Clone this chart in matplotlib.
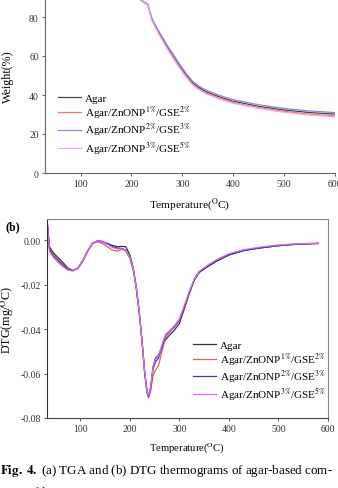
import matplotlib
matplotlib.use("Agg")
import matplotlib.pyplot as plt

plt.rcParams['font.family'] = ['Liberation Serif', 'DejaVu Serif']
plt.rcParams['mathtext.fontset'] = 'stix'

# ---------------- data ----------------
labels_a = ["Agar",
            "Agar/ZnONP$^{1\\%}$/GSE$^{2\\%}$",
            "Agar/ZnONP$^{2\\%}$/GSE$^{3\\%}$",
            "Agar/ZnONP$^{3\\%}$/GSE$^{5\\%}$"]
labels_b = labels_a

# TGA
t_tga = [30, 60, 100, 150, 200, 215, 225, 232, 240, 250, 260, 270, 280, 290, 300,
         310, 320, 330, 340, 350, 375, 400, 450, 500, 550, 600]
w_agar = [100, 96, 93, 91.5, 90.5, 89.5, 87.5, 86.5, 79, 74, 69.5, 65, 61, 57, 53,
          49.5, 46.3, 44.2, 42.6, 41.3, 38.8, 36.8, 34.2, 32.3, 31.0, 30.2]
w_zn1 = [100, 96, 93, 91.3, 90.3, 89.3, 87.3, 86.2, 78.5, 73.2, 68.6, 64.0, 60.0, 56.0, 52.2,
         48.7, 45.6, 43.5, 41.9, 40.6, 38.1, 36.1, 33.5, 31.6, 30.2, 29.3]
w_zn2 = [100, 96, 93, 91.6, 90.6, 89.6, 87.6, 86.6, 79.3, 74.3, 69.9, 65.5, 61.6, 57.6, 53.7,
         50.2, 47.1, 45.0, 43.4, 42.1, 39.6, 37.6, 35.0, 33.1, 31.8, 31.0]
w_zn3 = [100, 96, 93, 91.2, 90.2, 89.2, 87.2, 86.0, 78.3, 73.0, 68.3, 63.7, 59.6, 55.6, 51.8,
         48.3, 45.2, 43.1, 41.5, 40.2, 37.7, 35.7, 33.1, 31.1, 29.7, 28.8]

# DTG
t_dtg = [33, 38, 45, 55, 65, 75, 85, 95, 105, 115, 125, 135, 145, 155, 165, 175, 185,
         192, 200, 207, 213, 219, 225, 230, 235, 238, 242, 247, 252, 258, 265, 272, 280,
         290, 300, 310, 320, 330, 340, 355, 375, 400, 430, 460, 500, 540, 580]
d_agar = [0.009, -0.003, -0.0055, -0.0078, -0.0100, -0.0125, -0.0137, -0.0128, -0.0095, -0.0050,
          -0.0015, -0.0005, -0.0008, -0.0015, -0.0024, -0.0030, -0.0028, -0.0030, -0.0065, -0.0125,
          -0.0210, -0.0320, -0.0460, -0.0590, -0.0685, -0.0700, -0.0665, -0.0570, -0.0530, -0.0518,
          -0.0480, -0.0448, -0.0428, -0.0405, -0.0375, -0.0310, -0.0240, -0.0180, -0.0145, -0.0122,
          -0.0095, -0.0067, -0.0047, -0.0036, -0.0025, -0.0018, -0.0015]
d_zn1 = [0.009, -0.004, -0.0065, -0.0088, -0.0108, -0.0128, -0.0136, -0.0125, -0.0092, -0.0048,
         -0.0015, -0.0008, -0.0015, -0.0030, -0.0045, -0.0050, -0.0042, -0.0050, -0.0080, -0.0135,
         -0.0215, -0.0325, -0.0465, -0.0595, -0.0690, -0.0710, -0.0680, -0.0610, -0.0585, -0.0565,
         -0.0500, -0.0440, -0.0415, -0.0392, -0.0360, -0.0300, -0.0235, -0.0178, -0.0143, -0.0118,
         -0.0090, -0.0063, -0.0045, -0.0034, -0.0023, -0.0017, -0.0014]
d_zn2 = [0.009, -0.004, -0.0068, -0.0092, -0.0112, -0.0132, -0.0138, -0.0127, -0.0094, -0.0048,
         -0.0013, -0.0003, -0.0005, -0.0018, -0.0030, -0.0036, -0.0038, -0.0045, -0.0075, -0.0130,
         -0.0212, -0.0322, -0.0462, -0.0592, -0.0688, -0.0702, -0.0668, -0.0580, -0.0548, -0.0530,
         -0.0480, -0.0428, -0.0410, -0.0388, -0.0360, -0.0300, -0.0238, -0.0180, -0.0145, -0.0122,
         -0.0094, -0.0066, -0.0047, -0.0036, -0.0025, -0.0018, -0.0015]
d_zn3 = [0.009, -0.005, -0.0075, -0.0100, -0.0120, -0.0135, -0.0139, -0.0127, -0.0093, -0.0047,
         -0.0014, -0.0004, -0.0007, -0.0020, -0.0033, -0.0040, -0.0040, -0.0045, -0.0075, -0.0130,
         -0.0212, -0.0322, -0.0462, -0.0592, -0.0686, -0.0698, -0.0660, -0.0570, -0.0535, -0.0520,
         -0.0470, -0.0425, -0.0408, -0.0385, -0.0355, -0.0295, -0.0230, -0.0175, -0.0140, -0.0116,
         -0.0088, -0.0061, -0.0043, -0.0032, -0.0022, -0.0016, -0.0014]

colors_a = ['#444444', '#e87c78', '#8a86d8', '#f2a6ea']
colors_b = ['#333333', '#e8605a', '#3a34c4', '#d870e8']

# ---------------- figure ----------------
fig = plt.figure(figsize=(3.38, 4.89), dpi=100)
spine_c = '#666666'

# (a) TGA
ax1 = fig.add_axes([45/338, (489-174)/489, 290/338, 195/489])
for w, c, lab in zip([w_agar, w_zn1, w_zn2, w_zn3], colors_a, labels_a):
    ax1.plot(t_tga, w, color=c, lw=0.9, label=lab)
ax1.set_xlim(30, 600)
ax1.set_ylim(0, 100)
ax1.set_xticks([100, 200, 300, 400, 500, 600])
ax1.set_yticks([0, 20, 40, 60, 80, 100])
for s in ['top', 'right']:
    ax1.spines[s].set_visible(False)
for s in ['left', 'bottom']:
    ax1.spines[s].set_color(spine_c)
    ax1.spines[s].set_linewidth(0.8)
ax1.tick_params(direction='out', length=2.5, width=0.7, colors=spine_c,
                labelsize=7, labelcolor='#333333', pad=2)
ax1.set_xlabel("Temperature($^{\\mathrm{O}}$C)", fontsize=8.2, labelpad=5)
ax1.set_ylabel("Weight(%)", fontsize=8.7, labelpad=7)
ax1.legend(loc='upper left', bbox_to_anchor=((58-45)/290, (174-94)/195), frameon=False,
           fontsize=8, handlelength=2.1, handletextpad=0.3, labelspacing=0.1,
           borderpad=0, borderaxespad=0)

# (b) DTG
ax2 = fig.add_axes([47/338, (489-419)/489, 281/338, 199/489])
for d, c, lab in zip([d_agar, d_zn1, d_zn2, d_zn3], colors_b, labels_b):
    ax2.plot(t_dtg, d, color=c, lw=0.9, label=lab)
ax2.set_xlim(33, 600)
ax2.set_ylim(-0.08, 0.0095)
ax2.set_xticks([100, 200, 300, 400, 500, 600])
ax2.set_yticks([0.0, -0.02, -0.04, -0.06, -0.08])
ax2.set_yticklabels(["0.00", "-0.02", "-0.04", "-0.06", "-0.08"])
for s in ['top', 'right', 'left', 'bottom']:
    ax2.spines[s].set_color('#888888')
    ax2.spines[s].set_linewidth(0.8)
ax2.spines['left'].set_color('#333333')
ax2.spines['bottom'].set_color('#444444')
ax2.tick_params(direction='out', length=2.5, width=0.7, colors='#555555',
                labelsize=7, labelcolor='#333333', pad=2)
ax2.set_xlabel("Temperature($^{\\mathrm{O}}$C)", fontsize=7.7, labelpad=5)
ax2.set_ylabel("DTG(mg/$^{\\mathrm{O}}$C)", fontsize=8.7, labelpad=3)
ax2.legend(loc='upper left', bbox_to_anchor=((193-47)/281, (419-341)/199), frameon=False,
           fontsize=8, handlelength=2.1, handletextpad=0.3, labelspacing=0.06,
           borderpad=0, borderaxespad=0)

fig.text(5/338, 1 - 227/489, "(b)", fontsize=8.5, fontweight='bold', va='center', ha='left')

# caption
fig.text(0.0, 1 - 471/489, r"$\bf{Fig.\ 4.}$ (a) TGA and (b) DTG thermograms of agar-based com-",
         fontsize=9.4, va='center', ha='left')
fig.text(0.0, 1 - 493/489, "posite films.", fontsize=9.4, va='center', ha='left')

fig.savefig("out.png", dpi=100, facecolor='white')
